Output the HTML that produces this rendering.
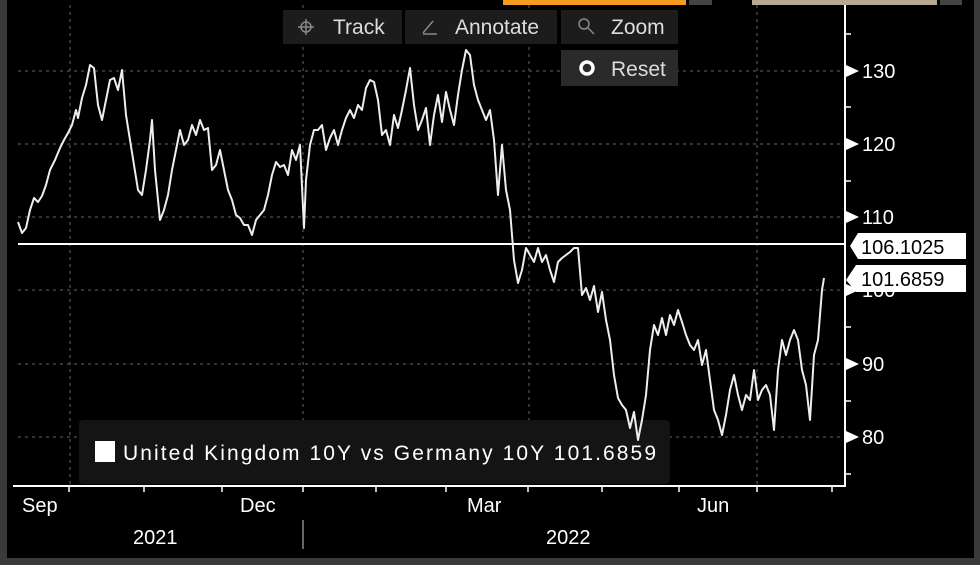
<!DOCTYPE html>
<html><head><meta charset="utf-8"><style>
body{margin:0;background:#000;width:980px;height:565px;overflow:hidden;font-family:"Liberation Sans",sans-serif}
</style></head><body>
<svg width="980" height="565" xmlns="http://www.w3.org/2000/svg" style="position:absolute;left:0;top:0">
<rect width="980" height="565" fill="#000"/>
<rect x="0" y="0" width="7" height="565" fill="#3a3a3a"/>
<rect x="974" y="0" width="6" height="565" fill="#3a3a3a"/>
<rect x="0" y="558" width="980" height="7" fill="#3a3a3a"/>
<rect x="503" y="0" width="183" height="5" fill="#f39c1e"/>
<rect x="689" y="0" width="23" height="5" fill="#444"/>
<rect x="752" y="0" width="185" height="5" fill="#b8a890"/>
<rect x="940" y="0" width="22" height="5" fill="#444"/>
<g stroke="#666" stroke-width="1" stroke-dasharray="3,4">
<line x1="18" y1="71" x2="845" y2="71"/><line x1="18" y1="144" x2="845" y2="144"/>
<line x1="18" y1="217" x2="845" y2="217"/><line x1="18" y1="290" x2="845" y2="290"/>
<line x1="18" y1="364" x2="845" y2="364"/><line x1="18" y1="437" x2="845" y2="437"/>
<line x1="70" y1="5" x2="70" y2="486"/><line x1="303" y1="5" x2="303" y2="486"/>
<line x1="529" y1="5" x2="529" y2="486"/><line x1="757" y1="5" x2="757" y2="486"/>
</g>
<rect x="79" y="420" width="591" height="64" rx="4" fill="#141414"/>
<rect x="95" y="441" width="20" height="21" fill="#fff"/>
<text x="123" y="460" fill="#fff" font-size="21" textLength="533">United Kingdom 10Y vs Germany 10Y 101.6859</text>
<line x1="18" y1="244" x2="845" y2="244" stroke="#fff" stroke-width="2"/>
<polyline fill="none" stroke="#eee" stroke-width="2" stroke-linejoin="round" points="18,222 22,233 26,228 30,210 34,198 38,202 42,196 46,185 50,170 55,160 60,148 64,140 68,133 72,125 76,110 78,118 82,98 86,85 90,65 94,68 98,105 102,120 106,100 110,80 114,78 118,90 122,70 126,115 130,140 134,165 138,190 142,195 146,170 150,140 152,120 155,170 160,220 164,210 168,195 172,170 176,150 180,130 184,145 188,140 192,125 196,135 200,120 204,130 208,128 212,170 216,165 220,150 224,170 228,190 232,200 236,215 240,218 244,225 248,225 252,235 256,220 260,215 264,210 268,195 272,175 276,162 280,167 284,165 288,175 292,150 296,160 300,145 304,228 306,180 310,145 314,130 318,130 322,125 326,150 330,138 334,130 338,145 342,130 346,118 350,110 354,118 358,105 362,110 366,88 370,80 374,82 378,100 382,135 386,130 390,145 394,115 398,128 402,110 406,90 410,68 414,105 418,130 422,120 426,108 430,145 434,115 438,95 442,122 446,92 450,110 454,125 458,95 462,70 466,50 470,55 474,85 478,100 482,110 486,120 490,110 494,140 498,195 502,145 506,190 510,210 514,260 518,283 522,270 526,248 530,255 534,262 538,248 542,262 546,255 550,270 554,282 558,262 562,258 566,255 570,252 574,248 578,248 582,295 586,288 590,300 594,286 598,312 602,292 606,320 610,340 614,375 618,398 622,405 626,410 630,428 634,412 638,440 642,420 646,395 650,350 654,325 658,335 662,318 666,335 670,315 674,325 678,310 682,322 686,335 690,345 694,350 698,340 702,365 706,350 710,380 714,410 718,420 722,435 726,415 730,390 734,375 738,395 742,410 746,395 750,400 754,370 758,400 762,390 766,385 770,395 774,430 778,370 782,340 786,355 790,340 794,330 798,340 802,370 806,385 810,420 814,355 818,340 822,290 824,278"/>
<line x1="13" y1="486" x2="846" y2="486" stroke="#fff" stroke-width="2"/>
<line x1="845" y1="5" x2="845" y2="487" stroke="#fff" stroke-width="2"/>
<g stroke="#fff" stroke-width="1.5">
<line x1="69" y1="486" x2="69" y2="492"/><line x1="144" y1="486" x2="144" y2="492"/><line x1="222" y1="486" x2="222" y2="492"/><line x1="303" y1="486" x2="303" y2="492"/><line x1="376" y1="486" x2="376" y2="492"/><line x1="446" y1="486" x2="446" y2="492"/><line x1="528" y1="486" x2="528" y2="492"/><line x1="602" y1="486" x2="602" y2="492"/><line x1="679" y1="486" x2="679" y2="492"/><line x1="757" y1="486" x2="757" y2="492"/><line x1="832" y1="486" x2="832" y2="492"/>
<line x1="845" y1="34" x2="851" y2="34"/><line x1="845" y1="107" x2="851" y2="107"/><line x1="845" y1="181" x2="851" y2="181"/><line x1="845" y1="327" x2="851" y2="327"/><line x1="845" y1="401" x2="851" y2="401"/><line x1="845" y1="474" x2="851" y2="474"/>
</g>
<line x1="303" y1="520" x2="303" y2="549" stroke="#888" stroke-width="1.5"/>
<g fill="#fff">
<polygon points="846,65 859,71 846,77"/><polygon points="846,138 859,144 846,150"/><polygon points="846,211 859,217 846,223"/><polygon points="846,284 859,290 846,296"/><polygon points="846,358 859,364 846,370"/><polygon points="846,431 859,437 846,443"/>
</g>
<g fill="#fff" font-size="20">
<text x="862" y="78">130</text><text x="862" y="151">120</text><text x="862" y="224">110</text><text x="862" y="297">100</text><text x="862" y="371">90</text><text x="862" y="444">80</text>
<text x="22" y="512">Sep</text><text x="240" y="512">Dec</text><text x="467" y="512">Mar</text><text x="697" y="512">Jun</text>
<text x="133" y="544">2021</text><text x="546" y="544">2022</text>
</g>
<polygon points="850,246 858,233 966,233 966,259 858,259" fill="#fff"/>
<text x="861" y="254" font-size="20" fill="#000">106.1025</text>
<polygon points="846,280 856,265 966,265 966,292 856,292" fill="#fff"/>
<text x="861" y="286" font-size="20" fill="#000">101.6859</text>
<rect x="283" y="10" width="119" height="34" fill="#1c1c1c"/>
<rect x="405" y="10" width="152" height="34" fill="#1c1c1c"/>
<rect x="561" y="10" width="117" height="34" fill="#1c1c1c"/>
<rect x="561" y="50" width="117" height="36" fill="#2a2a2a"/>
<g stroke="#888" stroke-width="1.5" fill="none">
<circle cx="306" cy="27" r="5"/><line x1="298" y1="27" x2="314" y2="27"/><line x1="306" y1="19" x2="306" y2="35"/>
<line x1="423" y1="33" x2="433" y2="21"/><line x1="423" y1="34" x2="437" y2="34"/>
<circle cx="584" cy="24" r="5"/><line x1="588" y1="28" x2="594" y2="34"/>
</g>
<circle cx="587" cy="68" r="6" fill="none" stroke="#fff" stroke-width="3.5"/>
<g fill="#ddd" font-size="21">
<text x="333" y="34">Track</text><text x="455" y="34">Annotate</text><text x="611" y="34">Zoom</text><text x="611" y="76">Reset</text>
</g>
</svg>
</body></html>
